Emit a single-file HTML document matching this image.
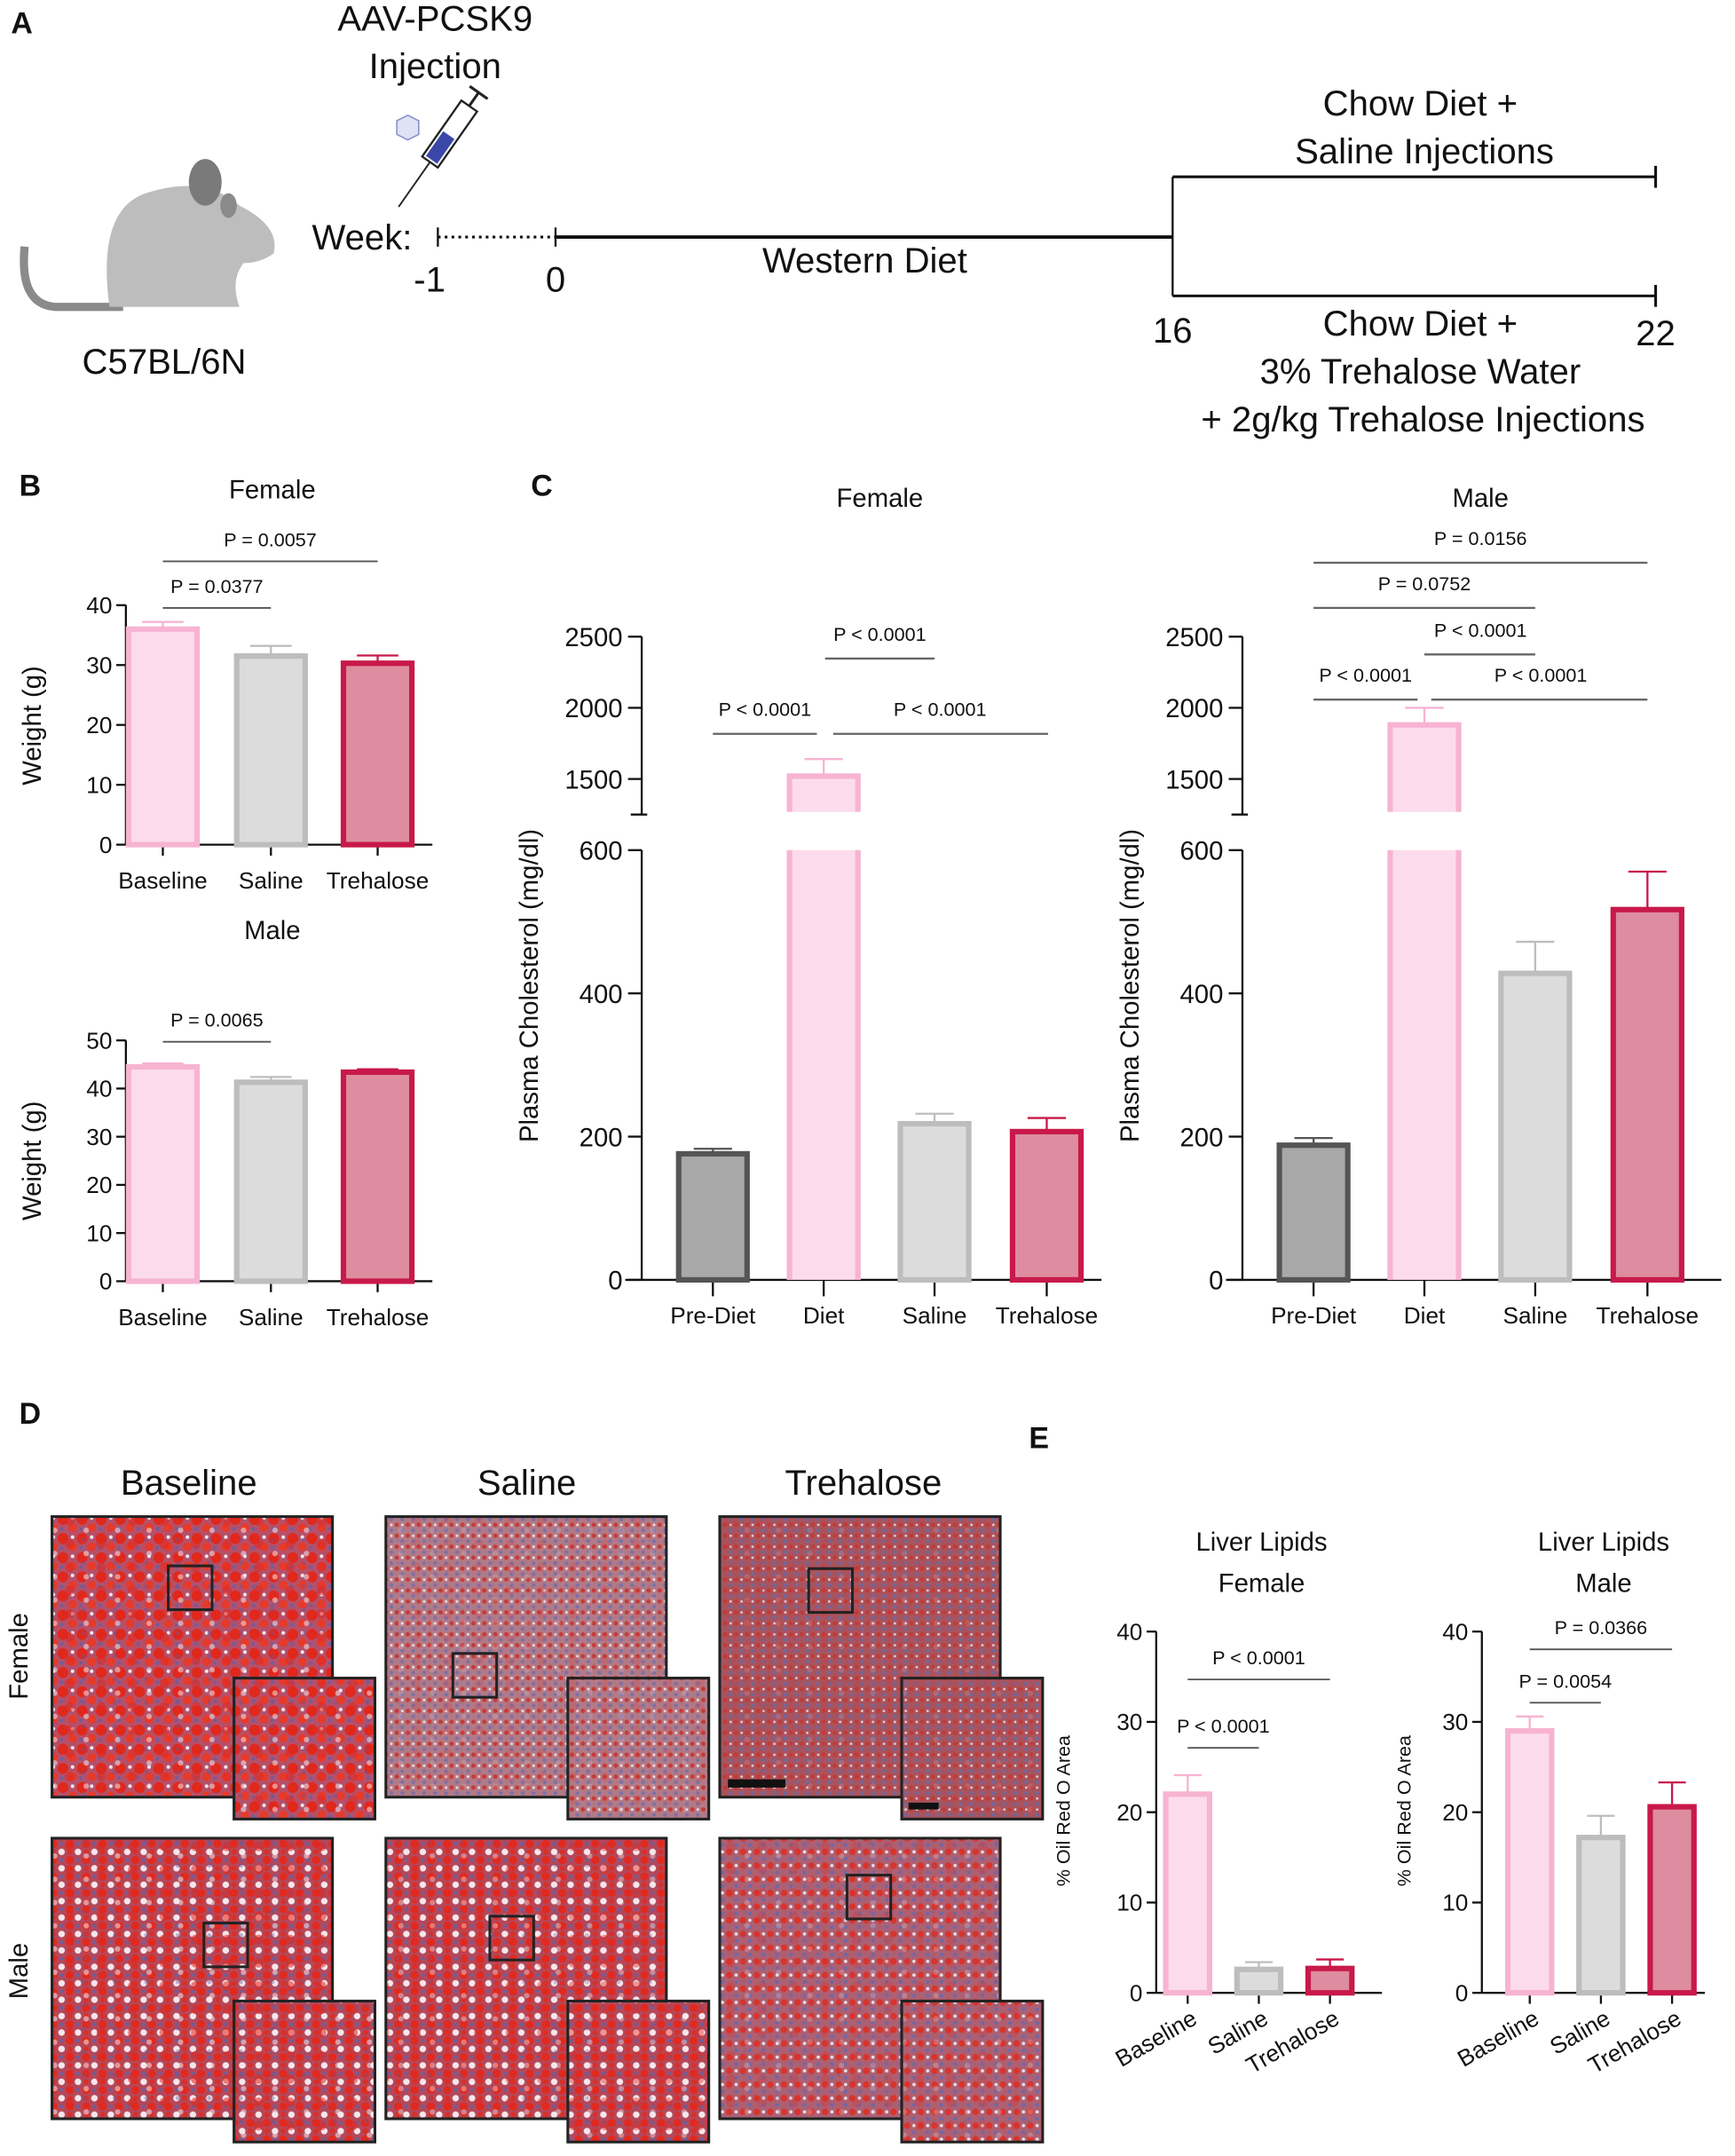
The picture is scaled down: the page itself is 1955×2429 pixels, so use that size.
<!DOCTYPE html>
<html><head><meta charset="utf-8">
<style>
html,body{margin:0;padding:0;background:#fff;}
svg{display:block;}
text{font-family:"Liberation Sans",Arial,sans-serif;fill:#111;}
.t{font-size:14px;}
.tk{font-size:17px;}
.lab{font-size:19px;}
.pn{font-size:22px;font-weight:bold;}
.dia{font-size:26px;}
</style></head>
<body>
<svg id="fig" width="1955" height="2429" viewBox="0 0 1268 1575" xmlns="http://www.w3.org/2000/svg">
<defs>
<pattern id="pBig" width="14" height="14" patternUnits="userSpaceOnUse"><rect width="14" height="14" fill="#b5506a"/><circle cx="4" cy="4" r="4" fill="#e0281c"/><circle cx="11" cy="10" r="3.2" fill="#e63a2a"/><circle cx="11" cy="3" r="1.3" fill="#f4e8ec"/><circle cx="3" cy="11" r="1.2" fill="#6a5fa0"/></pattern>
<pattern id="pFine" width="8" height="8" patternUnits="userSpaceOnUse"><rect width="8" height="8" fill="#b27a86"/><circle cx="2" cy="2" r="1.6" fill="#c63a36"/><circle cx="6" cy="6" r="1.4" fill="#7a70a8"/><circle cx="6" cy="2" r="1" fill="#eed8dc"/></pattern>
<pattern id="pTre" width="8" height="8" patternUnits="userSpaceOnUse"><rect width="8" height="8" fill="#a8545e"/><circle cx="2" cy="2" r="1.6" fill="#c23a36"/><circle cx="6" cy="6" r="1.3" fill="#6e68a0"/><circle cx="6" cy="2" r="0.9" fill="#e8ccd2"/></pattern>
<pattern id="pMix" width="12" height="12" patternUnits="userSpaceOnUse"><rect width="12" height="12" fill="#b4485a"/><circle cx="3" cy="3" r="3" fill="#e02a20"/><circle cx="9" cy="9" r="2.4" fill="#f6e6ea"/><circle cx="9" cy="3" r="1.3" fill="#6a60a0"/><circle cx="3" cy="9" r="2" fill="#d83028"/></pattern>
<pattern id="pMTre" width="10" height="10" patternUnits="userSpaceOnUse"><rect width="10" height="10" fill="#ad6072"/><circle cx="3" cy="3" r="2.4" fill="#d8342c"/><circle cx="8" cy="8" r="1.4" fill="#6e68a8"/><circle cx="8" cy="3" r="1.2" fill="#f0dde2"/></pattern>
<pattern id="pOver" width="23" height="17" patternUnits="userSpaceOnUse"><circle cx="5" cy="6" r="3.5" fill="#e3261c" opacity="0.7"/><circle cx="17" cy="13" r="2" fill="#f3e6ea" opacity="0.7"/><circle cx="15" cy="3" r="1.6" fill="#5e58a0" opacity="0.5"/></pattern>
</defs>
<g id="root"></g>
</svg>
<script>
// ===== Panel B data =====
var bCats = ["Baseline","Saline","Trehalose"];
var bFemaleVals = [36.0, 31.5, 30.3];
var bFemaleErr = [37.2, 33.2, 31.6];
var bFemaleTicks = [0,10,20,30,40];
var bMaleVals = [44.5, 41.3, 43.4];
var bMaleErr = [45.2, 42.4, 44.0];
var bMaleTicks = [0,10,20,30,40,50];
// ===== Panel C data =====
var cCats = ["Pre-Diet","Diet","Saline","Trehalose"];
var cFemaleVals = [176, 1520, 218, 207];
var cFemaleErr = [183, 1640, 232, 226];
var cMaleVals = [188, 1880, 428, 517];
var cMaleErr = [198, 2000, 472, 570];
var cLowTicks = [0,200,400,600];
var cHighTicks = [1500,2000,2500];
// ===== Panel E data =====
var eCats = ["Baseline","Saline","Trehalose"];
var eFemaleVals = [22.0, 2.6, 2.7];
var eFemaleErr = [24.1, 3.4, 3.7];
var eMaleVals = [29.0, 17.2, 20.6];
var eMaleErr = [30.6, 19.6, 23.3];
var eTicks = [0,10,20,30,40];

var NS="http://www.w3.org/2000/svg";
var root=document.getElementById('root');
function el(tag,attrs,parent){var e=document.createElementNS(NS,tag);for(var k in attrs)e.setAttribute(k,attrs[k]);(parent||root).appendChild(e);return e;}
function txt(x,y,s,cls,anchor,parent,extra){var t=el('text',{x:x,y:y,'class':cls,'text-anchor':anchor||'middle'},parent);if(extra)for(var k in extra)t.setAttribute(k,extra[k]);t.textContent=s;return t;}
function line(x1,y1,x2,y2,c,w,parent){return el('line',{x1:x1,y1:y1,x2:x2,y2:y2,stroke:c||'#111','stroke-width':w||1.5},parent);}

var fill=["#fcdcec","#dcdcdc","#de8ca0"], strk=["#f7b3d2","#bdbdbd","#c8194a"];
var cFill=["#a8a8a8","#fcdcec","#dcdcdc","#de8ca0"], cStrk=["#555","#f7b3d2","#bdbdbd","#c8194a"];

// ---------- Panel A ----------
var gA=el('g',{});


txt(8,24,"A","pn","start",gA);
var mouse=el('g',{},gA);


el('path',{d:"M18 180 Q14 222 40 224 L90 224",fill:"none",stroke:"#8a8a8a","stroke-width":6},mouse);
el('path',{d:"M80 224 Q70 150 110 140 Q150 128 175 150 Q205 165 200 185 Q190 192 178 192 Q168 205 175 224 Z",fill:"#bdbdbd"},mouse);
el('ellipse',{cx:150,cy:133,rx:12,ry:17,fill:"#7a7a7a"},mouse);
el('ellipse',{cx:167,cy:150,rx:6,ry:9,fill:"#8a8a8a"},mouse);
txt(120,273,"C57BL/6N","dia","middle",gA);
txt(318,22,"AAV-PCSK9","dia","middle",gA);
txt(318,57,"Injection","dia","middle",gA);
var syr=el('g',{transform:"rotate(35 320 110)"},gA);


el('rect',{x:313,y:70,width:14,height:50,fill:"#fff",stroke:"#222","stroke-width":1.5},syr);
el('rect',{x:315,y:96,width:10,height:22,fill:"#3a47a8"},syr);
line(320,120,320,160,"#222",1.2,syr);line(320,70,320,58,"#222",2,syr);line(312,58,328,58,"#222",2,syr);
el('polygon',{points:"298,84 306,88 306,98 298,102 290,98 290,88",fill:"#dfe2f5",stroke:"#8890cc"},gA);
txt(228,182,"Week:","dia","start",gA);
line(320,166,320,180,"#111",1.5,gA);
el('line',{x1:320,y1:173,x2:406,y2:173,stroke:"#111","stroke-width":2,"stroke-dasharray":"2,3"},gA);
line(406,166,406,180,"#111",1.5,gA);
line(406,173,857,173,"#111",2.5,gA);
line(857,129,857,216,"#111",1.5,gA);
line(857,129,1210,129,"#111",2,gA);line(1210,121,1210,137,"#111",2,gA);
line(857,216,1210,216,"#111",2,gA);line(1210,208,1210,224,"#111",2,gA);
txt(314,213,"-1","dia","middle",gA);txt(406,213,"0","dia","middle",gA);
txt(632,199,"Western Diet","dia","middle",gA);
txt(857,250,"16","dia","middle",gA);txt(1210,252,"22","dia","middle",gA);
txt(1038,84,"Chow Diet +","dia","middle",gA);txt(1041,119,"Saline Injections","dia","middle",gA);
txt(1038,245,"Chow Diet +","dia","middle",gA);txt(1038,280,"3% Trehalose Water","dia","middle",gA);txt(1040,315,"+ 2g/kg Trehalose Injections","dia","middle",gA);

// ---------- generic simple bar chart ----------
function simpleChart(opt){
  var g=el('g',{});
  
  
  var ax=opt.ax, y0=opt.y0, ppu=opt.ppu, ymaxTick=opt.ticks[opt.ticks.length-1];
  function Y(v){return y0-v*ppu;}
  line(ax,Y(ymaxTick),ax,y0,"#111",1.5,g);
  line(ax,y0,opt.axEnd,y0,"#111",1.5,g);
  opt.ticks.forEach(function(t){line(ax-7,Y(t),ax,Y(t),"#111",1.5,g);txt(ax-10,Y(t)+6,String(t),"tk","end",g);});
  opt.cats.forEach(function(c,i){
    var cx=opt.cx[i];
    line(cx,y0,cx,y0+8,"#111",1.5,g);
    var ec=strk[i];
    line(cx,Y(opt.vals[i]),cx,Y(opt.err[i]),ec,1.5,g);
    line(cx-opt.bw*0.28,Y(opt.err[i]),cx+opt.bw*0.28,Y(opt.err[i]),ec,1.5,g);
    var r=el('rect',{x:cx-opt.bw/2+2,y:Y(opt.vals[i]),width:opt.bw-4,height:y0-Y(opt.vals[i]),fill:fill[i],stroke:strk[i],'stroke-width':4},g);
    
    
    if(opt.rot){txt(cx+8,y0+22,c,"tk","end",g,{transform:"rotate(-30 "+(cx+8)+" "+(y0+22)+")"});}
    else txt(cx,y0+32,c,"tk","middle",g);
  });
  (opt.sig||[]).forEach(function(s){line(opt.cx[s[0]],s[2],opt.cx[s[1]],s[2],"#555",1.2,g);txt((opt.cx[s[0]]+opt.cx[s[1]])/2,s[2]-11,s[3],"t","middle",g);});
  txt(opt.ylx,opt.yly,opt.ylabel,opt.ylcls||"lab","middle",g,{transform:"rotate(-90 "+opt.ylx+" "+opt.yly+")"});
  return g;
}
txt(14,362,"B","pn","start");
txt(199,364,"Female","lab","middle");
simpleChart({name:"panel-b-female-weight",cats:bCats,vals:bFemaleVals,err:bFemaleErr,ticks:bFemaleTicks,ax:92,axEnd:316,y0:617,ppu:175/40,cx:[119,198,276],bw:54,ylabel:"Weight (g)",ylx:30,yly:530,
 sig:[[0,1,444,"P = 0.0377"],[0,2,410,"P = 0.0057"]]});
txt(199,686,"Male","lab","middle");
simpleChart({name:"panel-b-male-weight",cats:bCats,vals:bMaleVals,err:bMaleErr,ticks:bMaleTicks,ax:92,axEnd:316,y0:936,ppu:176/50,cx:[119,198,276],bw:54,ylabel:"Weight (g)",ylx:30,yly:848,
 sig:[[0,1,761,"P = 0.0065"]]});

// ---------- Panel C broken-axis charts ----------
function brokenChart(name,ax,axEnd,cx,vals,err,sig,ylx){
  var g=el('g',{});
  
  
  var y0=935, lp=314/600, hp=52/500;
  function Y(v){return v<=600? y0-v*lp : 569-(v-1500)*hp;}
  line(ax,621,ax,y0,"#111",1.5,g);line(ax,465,ax,595,"#111",1.5,g);
  line(ax-8,595,ax+4,595,"#111",1.5,g);
  line(ax-12,y0,axEnd,y0,"#111",1.5,g);
  cLowTicks.forEach(function(t){line(ax-10,Y(t),ax,Y(t),"#111",1.5,g);txt(ax-14,Y(t)+7,String(t),"lab","end",g);});
  cHighTicks.forEach(function(t){line(ax-10,Y(t),ax,Y(t),"#111",1.5,g);txt(ax-14,Y(t)+7,String(t),"lab","end",g);});
  cCats.forEach(function(c,i){
    var x=cx[i], bw=54;
    line(x,y0,x,y0+12,"#111",1.5,g);
    line(x,Y(vals[i]),x,Y(err[i]),cStrk[i],1.5,g);
    line(x-14,Y(err[i]),x+14,Y(err[i]),cStrk[i],1.5,g);
    var r;
    if(vals[i]>600){
      r=el('rect',{x:x-bw/2+2,y:Y(vals[i]),width:bw-4,height:595-Y(vals[i]),fill:cFill[i],stroke:cStrk[i],'stroke-width':4},g);
      el('rect',{x:x-bw/2,y:621,width:bw,height:y0-621,fill:cFill[i]},g);
      line(x-bw/2+2,621,x-bw/2+2,y0,cStrk[i],4,g);line(x+bw/2-2,621,x+bw/2-2,y0,cStrk[i],4,g);
      el('rect',{x:x-bw/2-1,y:593,width:bw+2,height:6,fill:"#fff"},g);
    } else {
      r=el('rect',{x:x-bw/2+2,y:Y(vals[i]),width:bw-4,height:y0-Y(vals[i]),fill:cFill[i],stroke:cStrk[i],'stroke-width':4},g);
    }
    
    
    txt(x,y0+32,c,"tk","middle",g);
  });
  sig.forEach(function(s){line(s[0],s[2],s[1],s[2],"#666",1.5,g);txt(s[4],s[2]-13,s[3],"t","middle",g);});
  txt(ylx,720,"Plasma Cholesterol (mg/dl)","lab","middle",g,{transform:"rotate(-90 "+ylx+" 720)"});
}
txt(388,362,"C","pn","start");
txt(643,370,"Female","lab","middle");
txt(1082,370,"Male","lab","middle");
brokenChart("panel-c-female-cholesterol",469,805,[521,602,683,765],cFemaleVals,cFemaleErr,
 [[521,597,536,"P < 0.0001",559],[609,766,536,"P < 0.0001",687],[603,683,481,"P < 0.0001",643]],393);
brokenChart("panel-c-male-cholesterol",908,1258,[960,1041,1122,1204],cMaleVals,cMaleErr,
 [[960,1204,411,"P = 0.0156",1082],[960,1122,444,"P = 0.0752",1041],[1041,1122,478,"P < 0.0001",1082],[960,1036,511,"P < 0.0001",998],[1046,1204,511,"P < 0.0001",1126]],832);

// ---------- Panel D ----------
txt(14,1040,"D","pn","start");
var gD=el('g',{});


txt(138,1092,"Baseline","dia","middle",gD);txt(385,1092,"Saline","dia","middle",gD);txt(631,1092,"Trehalose","dia","middle",gD);
txt(20,1210,"Female","lab","middle",gD,{transform:"rotate(-90 20 1210)"});
txt(20,1440,"Male","lab","middle",gD,{transform:"rotate(-90 20 1440)"});
var cols=[38,282,526], rows=[1108,1343];
var pats=[["pBig","pFine","pTre"],["pMix","pMix","pMTre"]];
var overOp=[[0.8,0.25,0.2],[0.8,0.6,0.35]];
var boxes=[[[123,1144],[331,1208],[591,1146]],[[149,1405],[358,1400],[619,1370]]];
var insY=[1226,1462];
for(var r=0;r<2;r++)for(var c=0;c<3;c++){
  var im=el('rect',{x:cols[c],y:rows[r],width:205,height:205,fill:"url(#"+pats[r][c]+")",stroke:"#222","stroke-width":2},gD);
  
  
  el('rect',{x:cols[c]+1,y:rows[r]+1,width:203,height:203,fill:"url(#pOver)",opacity:overOp[r][c]},gD);
  el('rect',{x:boxes[r][c][0],y:boxes[r][c][1],width:32,height:32,fill:"none",stroke:"#222","stroke-width":2},gD);
  var ins=el('rect',{x:cols[c]+133,y:insY[r],width:103,height:103,fill:"url(#"+pats[r][c]+")",stroke:"#222","stroke-width":2},gD);
  
  
  el('rect',{x:cols[c]+134,y:insY[r]+1,width:101,height:101,fill:"url(#pOver)",opacity:overOp[r][c]},gD);
}
el('rect',{x:532,y:1300,width:42,height:6,fill:"#111"},gD);
el('rect',{x:664,y:1317,width:22,height:5,fill:"#111"},gD);

// ---------- Panel E ----------
txt(752,1058,"E","pn","start");
txt(922,1133,"Liver Lipids","lab","middle");txt(922,1163,"Female","lab","middle");
txt(1172,1133,"Liver Lipids","lab","middle");txt(1172,1163,"Male","lab","middle");
simpleChart({name:"panel-e-female-lipids",cats:eCats,vals:eFemaleVals,err:eFemaleErr,ticks:eTicks,ax:845,axEnd:1010,y0:1456,ppu:264/40,cx:[868,920,972],bw:36,rot:true,ylabel:"% Oil Red O Area",ylcls:"t",ylx:782,yly:1323,
 sig:[[0,1,1277,"P < 0.0001"],[0,2,1227,"P < 0.0001"]]});
simpleChart({name:"panel-e-male-lipids",cats:eCats,vals:eMaleVals,err:eMaleErr,ticks:eTicks,ax:1083,axEnd:1246,y0:1456,ppu:264/40,cx:[1118,1170,1222],bw:36,rot:true,ylabel:"% Oil Red O Area",ylcls:"t",ylx:1031,yly:1323,
 sig:[[0,1,1244,"P = 0.0054"],[0,2,1205,"P = 0.0366"]]});
</script>
</body></html>
